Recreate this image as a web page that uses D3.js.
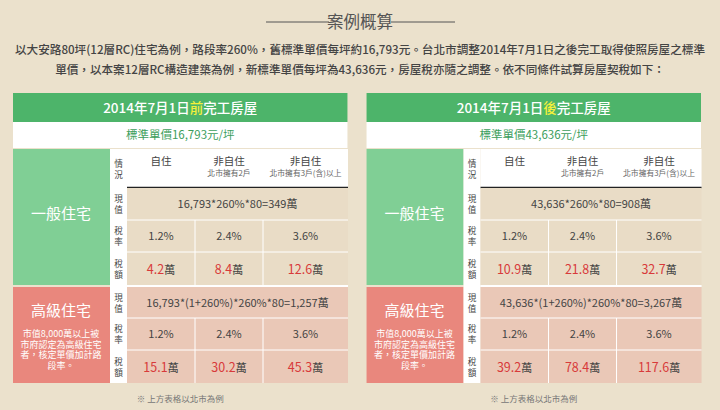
<!DOCTYPE html>
<html><head><meta charset="utf-8">
<script src="https://cdn.jsdelivr.net/npm/d3@7"></script>
<style>body{margin:0;background:#ebe1cc}text{font-family:"Noto Sans CJK TC","Noto Sans",sans-serif}</style>
</head><body><div id="frame"></div>
<script>
const heading = "案例概算";
const intro = [
  "以大安路80坪(12層RC)住宅為例，路段率260%，舊標準單價每坪約16,793元。台北市調整2014年7月1日之後完工取得使照房屋之標準",
  "單價，以本案12層RC構造建築為例，新標準單價每坪為43,636元，房屋稅亦隨之調整。依不同條件試算房屋契稅如下："
];
const panelKeys = ["前", "後"];
const prices = ["16,793", "43,636"];
const normalFormula = ["16,793*260%*80=349萬", "43,636*260%*80=908萬"];
const luxuryFormula = ["16,793*(1+260%)*260%*80=1,257萬", "43,636*(1+260%)*260%*80=3,267萬"];
const rates = ["1.2%", "2.4%", "3.6%"];
const normalTax = [["4.2", "8.4", "12.6"], ["10.9", "21.8", "32.7"]];
const luxuryTax = [["15.1", "30.2", "45.3"], ["39.2", "78.4", "117.6"]];
const colHeads = [["自住", ""], ["非自住", "北市擁有2戶"], ["非自住", "北市擁有3戶(含)以上"]];
const rowLabels = ["情況", "現值", "稅率", "稅額"];
const luxuryNote = ["市值8,000萬以上被", "市府認定為高級住宅", "者，核定單價加計路", "段率。"];

const W = 720, H = 410;
const svg = d3.select("#frame").append("svg").attr("width", W).attr("height", H);
svg.append("rect").attr("width", W).attr("height", H).attr("fill", "#ebe1cc");

// heading
svg.append("text").attr("x", 360).attr("y", 28).attr("text-anchor", "middle")
  .attr("font-size", 16.5).attr("fill", "#555").text(heading);
svg.append("line").attr("x1", 266).attr("x2", 329).attr("y1", 22).attr("y2", 22).attr("stroke", "#555");
svg.append("line").attr("x1", 391).attr("x2", 455).attr("y1", 22).attr("y2", 22).attr("stroke", "#555");
intro.forEach((t, i) => svg.append("text").attr("x", 360).attr("y", 54 + i * 20)
  .attr("text-anchor", "middle").attr("font-size", 11.6).attr("font-weight", 500).attr("fill", "#444").text(t));

// row bands (y) and column bands (x) within a panel
const rowY = d3.scaleOrdinal().domain(["title", "price", "head", "nv", "nr", "nt", "lv", "lr", "lt"])
  .range([93, 122, 149, 188, 220, 252, 287, 318, 350]);
const rowH = {title: 29, price: 26, head: 39, nv: 32, nr: 32, nt: 33, lv: 31, lr: 32, lt: 33};
const panelX = d3.scaleBand().domain([0, 1]).range([13, 701]).paddingInner(0.054);
const colX = d3.scaleLinear().domain([0, 1, 2, 3]).range([114, 182, 250, 335]); // relative to panel

panelKeys.forEach((k, p) => {
  const g = svg.append("g").attr("transform", `translate(${panelX(p)},0)`);
  const pw = panelX.bandwidth();
  const cell = (x, y, w, h, fill) => g.append("rect").attr("x", x).attr("y", y).attr("width", w).attr("height", h).attr("fill", fill);
  const txt = (x, y, s, size, fill, anchor = "middle") => g.append("text").attr("x", x).attr("y", y)
    .attr("text-anchor", anchor).attr("font-size", size).attr("fill", fill).text(s);

  cell(0, rowY("title"), pw, rowH.title, "#4db46a");
  const t = txt(pw / 2, rowY("title") + 20, "", 13.5, "#fff").attr("font-weight", 500);
  t.append("tspan").text("2014年7月1日");
  t.append("tspan").attr("fill", "#f5f03a").text(k);
  t.append("tspan").text("完工房屋");
  cell(0, rowY("price"), pw, rowH.price, "#fff");
  txt(pw / 2, rowY("price") + 17, `標準單價${prices[p]}元/坪`, 11.5, "#3c9e5c");

  // side labels
  cell(0, rowY("head"), 97, rowY("lv") - rowY("head") - 2, "#80cf95");
  txt(48, 219, "一般住宅", 15, "#fff");
  cell(0, rowY("lv"), 97, rowY("lt") + rowH.lt - rowY("lv"), "#e9877d");
  txt(48, 316, "高級住宅", 15, "#fff");
  luxuryNote.forEach((s, i) => txt(48, 337 + i * 10.5, s, 9, "#fff"));

  // narrow label column
  cell(97, rowY("head"), 17, rowY("lt") + rowH.lt - rowY("head"), "#fff");
  const lbl = (key, s) => {
    txt(105.5, rowY(key) + rowH[key] / 2 - 2, s[0], 8.6, "#444");
    txt(105.5, rowY(key) + rowH[key] / 2 + 9, s[1], 8.6, "#444");
  };
  lbl("head", rowLabels[0]);
  ["nv", "nr", "nt"].forEach((key, i) => lbl(key, rowLabels[i + 1]));
  ["lv", "lr", "lt"].forEach((key, i) => lbl(key, rowLabels[i + 1]));

  // column headers
  cell(colX(0), rowY("head"), colX(3) - colX(0), rowH.head, "#fff");
  colHeads.forEach((c, i) => {
    const cx = (colX(i) + colX(i + 1)) / 2;
    txt(cx, rowY("head") + 16, c[0], 10.5, "#444");
    if (c[1]) txt(cx, rowY("head") + 27, c[1], 7.8, "#666");
  });
  g.append("line").attr("x1", colX(0)).attr("x2", colX(3)).attr("y1", rowY("nv") - 0.5).attr("y2", rowY("nv") - 0.5)
    .attr("stroke", "#222").attr("stroke-width", 1.5);

  const block = (keys, fill, formula, taxes) => {
    cell(colX(0), rowY(keys[0]), colX(3) - colX(0), rowY(keys[2]) + rowH[keys[2]] - rowY(keys[0]), fill);
    txt((colX(0) + colX(3)) / 2, rowY(keys[0]) + rowH[keys[0]] / 2 + 4, formula, 11, "#444");
    [1, 2].forEach(r => g.append("line").attr("x1", colX(0)).attr("x2", colX(3))
      .attr("y1", rowY(keys[r])).attr("y2", rowY(keys[r])).attr("stroke", "#fff"));
    [1, 2].forEach(c => g.append("line").attr("x1", colX(c)).attr("x2", colX(c))
      .attr("y1", rowY(keys[1])).attr("y2", rowY(keys[2]) + rowH[keys[2]]).attr("stroke", "#fff"));
    rates.forEach((r, i) => txt((colX(i) + colX(i + 1)) / 2, rowY(keys[1]) + rowH[keys[1]] / 2 + 4, r, 11, "#444"));
    taxes.forEach((v, i) => {
      const tt = txt((colX(i) + colX(i + 1)) / 2, rowY(keys[2]) + rowH[keys[2]] / 2 + 5, "", 12.5, "#d83a3a");
      tt.append("tspan").text(v);
      tt.append("tspan").attr("fill", "#444").attr("font-size", 11).text("萬");
    });
  };
  block(["nv", "nr", "nt"], "#e9dcc6", normalFormula[p], normalTax[p]);
  block(["lv", "lr", "lt"], "#eac8b7", luxuryFormula[p], luxuryTax[p]);
  g.append("line").attr("x1", colX(0)).attr("x2", colX(3)).attr("y1", rowY("lv") - 1).attr("y2", rowY("lv") - 1)
    .attr("stroke", "#fff").attr("stroke-width", 2);

  txt(pw / 2, 402, "※ 上方表格以北市為例", 8.5, "#777");
});
</script></body></html>
